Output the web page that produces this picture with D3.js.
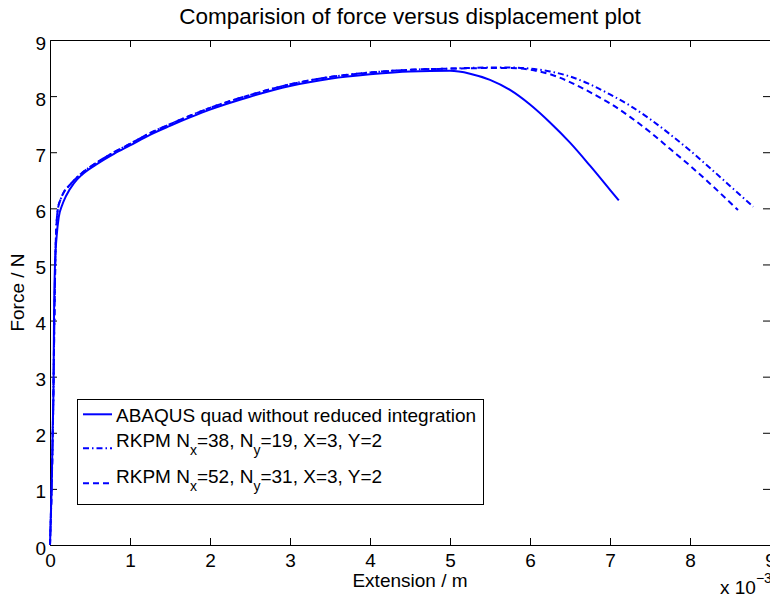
<!DOCTYPE html>
<html>
<head>
<meta charset="utf-8">
<script src="https://cdn.jsdelivr.net/npm/d3@7"></script>
<style>
  html, body { margin: 0; padding: 0; background: #fff; overflow: hidden; }
  svg { display: block; }
  text { font-family: "Liberation Sans", Arial, Helvetica, sans-serif; fill: #000; }
</style>
</head>
<body>
<svg id="chart" width="770" height="599"></svg>
<script>
// ---- Data (extension in units of 1e-3 m, force in N) ----
const titleText = "Comparision of force versus displacement plot";
const xLabelText = "Extension / m";
const yLabelText = "Force / N";
const xTicks = [0, 1, 2, 3, 4, 5, 6, 7, 8, 9];
const yTicks = [0, 1, 2, 3, 4, 5, 6, 7, 8, 9];

const abaqusX = [0, 0.02, 0.033, 0.045, 0.05, 0.0625, 0.083, 0.11, 0.15, 0.2, 0.3, 0.4, 0.6, 0.8, 1.0, 1.25, 1.5, 1.75, 2.0, 2.5, 3.0, 3.5, 4.0, 4.5, 5.0, 5.25, 5.5, 5.75, 6.0, 6.25, 6.5, 6.75, 7.0, 7.11];
const abaqusY = [0, 1.0, 2.0, 3.0, 4.0, 5.0, 5.5, 5.85, 6.05, 6.22, 6.45, 6.6, 6.8, 6.97, 7.12, 7.31, 7.47, 7.62, 7.76, 7.99, 8.18, 8.31, 8.39, 8.44, 8.45, 8.40, 8.29, 8.11, 7.85, 7.53, 7.17, 6.76, 6.33, 6.14];

const rk38X = [0, 0.02, 0.035, 0.05, 0.06, 0.07, 0.085, 0.1, 0.13, 0.17, 0.25, 0.3, 0.4, 0.6, 0.8, 1.0, 1.25, 1.5, 1.75, 2.0, 2.5, 3.0, 3.5, 4.0, 4.5, 5.0, 5.5, 5.75, 6.0, 6.25, 6.5, 6.75, 7.0, 7.25, 7.5, 7.75, 8.0, 8.25, 8.5, 8.79];
const rk38Y = [0, 1.0, 2.0, 3.5, 4.5, 5.3, 5.8, 6.0, 6.15, 6.28, 6.42, 6.5, 6.63, 6.83, 7.0, 7.15, 7.34, 7.5, 7.65, 7.79, 8.02, 8.21, 8.34, 8.42, 8.47, 8.49, 8.51, 8.51, 8.49, 8.44, 8.35, 8.21, 8.03, 7.83, 7.59, 7.32, 7.03, 6.72, 6.4, 6.03];

const rk52X = [0, 0.02, 0.035, 0.05, 0.06, 0.07, 0.085, 0.1, 0.13, 0.17, 0.25, 0.3, 0.4, 0.6, 0.8, 1.0, 1.25, 1.5, 1.75, 2.0, 2.5, 3.0, 3.5, 4.0, 4.5, 5.0, 5.5, 5.75, 6.0, 6.25, 6.5, 6.75, 7.0, 7.25, 7.5, 7.75, 8.0, 8.25, 8.6];
const rk52Y = [0, 1.0, 2.0, 3.5, 4.5, 5.3, 5.8, 6.0, 6.15, 6.28, 6.42, 6.5, 6.63, 6.83, 7.0, 7.15, 7.34, 7.5, 7.65, 7.79, 8.02, 8.21, 8.34, 8.42, 8.47, 8.49, 8.5, 8.5, 8.47, 8.39, 8.25, 8.07, 7.87, 7.63, 7.36, 7.06, 6.76, 6.44, 5.97];

const seriesNames = ["ABAQUS quad without reduced integration", "RKPM N_x=38, N_y=19, X=3, Y=2", "RKPM N_x=52, N_y=31, X=3, Y=2"];

// ---- Layout ----
const svg = d3.select("#chart");
const M = { left: 50, right: 770, top: 40, bottom: 545 };
const FONT = 19;
const x = d3.scaleLinear().domain([0, 9]).range([M.left, M.right]);
const y = d3.scaleLinear().domain([0, 9]).range([M.bottom, M.top]);
const blue = "#0000ff";
const styles = [
  { dash: null },
  { dash: "6,3,1.5,3" },
  { dash: "6,4" }
];

// Clip
svg.append("clipPath").attr("id", "clip").append("rect")
  .attr("x", M.left - 1).attr("y", M.top).attr("width", M.right - M.left + 1).attr("height", M.bottom - M.top);

// Axes: bottom, left (with labels), top, right (ticks only)
const tickLen = 7;
const axB = svg.append("g").attr("transform", `translate(0,${M.bottom})`)
  .call(d3.axisBottom(x).tickValues(xTicks).tickSize(-tickLen).tickPadding(0).tickFormat(d3.format("d")));
axB.selectAll("text").attr("y", 22).attr("dy", 0).style("font-size", FONT + "px");
const axL = svg.append("g").attr("transform", `translate(${M.left},0)`)
  .call(d3.axisLeft(y).tickValues(yTicks).tickSize(-tickLen).tickPadding(4).tickFormat(d3.format("d")));
axL.selectAll("text").attr("x", -4).attr("dy", 9).style("font-size", FONT + "px");
const axT = svg.append("g").attr("transform", `translate(0,${M.top})`)
  .call(d3.axisTop(x).tickValues(xTicks).tickSize(-tickLen).tickFormat(""));
const axR = svg.append("g").attr("transform", `translate(${M.right},0)`)
  .call(d3.axisRight(y).tickValues(yTicks).tickSize(-tickLen).tickFormat(""));
[axB, axL, axT, axR].forEach(g => {
  g.select(".domain").attr("stroke", "#000").attr("stroke-width", 1);
  g.selectAll(".tick line").attr("stroke", "#000").attr("stroke-width", 1);
  g.selectAll("text").attr("fill", "#000").style("font-family", "'Liberation Sans', Arial, sans-serif");
  g.selectAll(".tick").filter(d => d === 0 || d === 9).select("line").remove();
});

// Lines
const line = d3.line().x(d => x(d[0])).y(d => y(d[1])).curve(d3.curveMonotoneX);
const dataSets = [
  d3.zip(abaqusX, abaqusY),
  d3.zip(rk38X, rk38Y),
  d3.zip(rk52X, rk52Y)
];
const gLines = svg.append("g").attr("clip-path", "url(#clip)");
dataSets.forEach((ds, i) => {
  gLines.append("path").datum(ds)
    .attr("d", line)
    .attr("fill", "none")
    .attr("stroke", blue)
    .attr("stroke-width", 2)
    .attr("stroke-dasharray", styles[i].dash);
});

// Title & labels
svg.append("text").attr("x", (M.left + M.right) / 2).attr("y", 24)
  .attr("text-anchor", "middle").style("font-size", "22.5px").text(titleText);
svg.append("text").attr("x", (M.left + M.right) / 2).attr("y", 587)
  .attr("text-anchor", "middle").style("font-size", FONT + "px").text(xLabelText);
svg.append("text").attr("transform", `translate(24,${(M.top + M.bottom) / 2}) rotate(-90)`)
  .attr("text-anchor", "middle").style("font-size", FONT + "px").text(yLabelText);
// exponent label
const expT = svg.append("text").attr("x", 720).attr("y", 594).style("font-size", FONT + "px");
expT.append("tspan").text("x 10");
expT.append("tspan").attr("dy", -11).style("font-size", "14px").text("\u22123");

// Legend
const lg = svg.append("g");
lg.append("rect").attr("x", 77.5).attr("y", 399.5).attr("width", 406).attr("height", 105)
  .attr("fill", "#fff").attr("stroke", "#000").attr("stroke-width", 1);
const lineYs = [414.3, 448.3, 483.3];
const textYs = [422, 446.7, 482.7];
seriesNames.forEach((name, i) => {
  lg.append("line").attr("x1", 83).attr("x2", 112).attr("y1", lineYs[i]).attr("y2", lineYs[i])
    .attr("stroke", blue).attr("stroke-width", 2).attr("stroke-dasharray", styles[i].dash);
  const t = lg.append("text").attr("x", 116).attr("y", textYs[i]).style("font-size", FONT + "px");
  const parts = name.split(/_(.)/);
  let sub = false;
  parts.forEach((p, k) => {
    if (k % 2 === 1) {
      t.append("tspan").attr("dy", 8).style("font-size", "14px").text(p);
      sub = true;
    } else {
      const ts = t.append("tspan").text(p);
      if (sub) { ts.attr("dy", -8); sub = false; }
    }
  });
});
</script>
</body>
</html>
